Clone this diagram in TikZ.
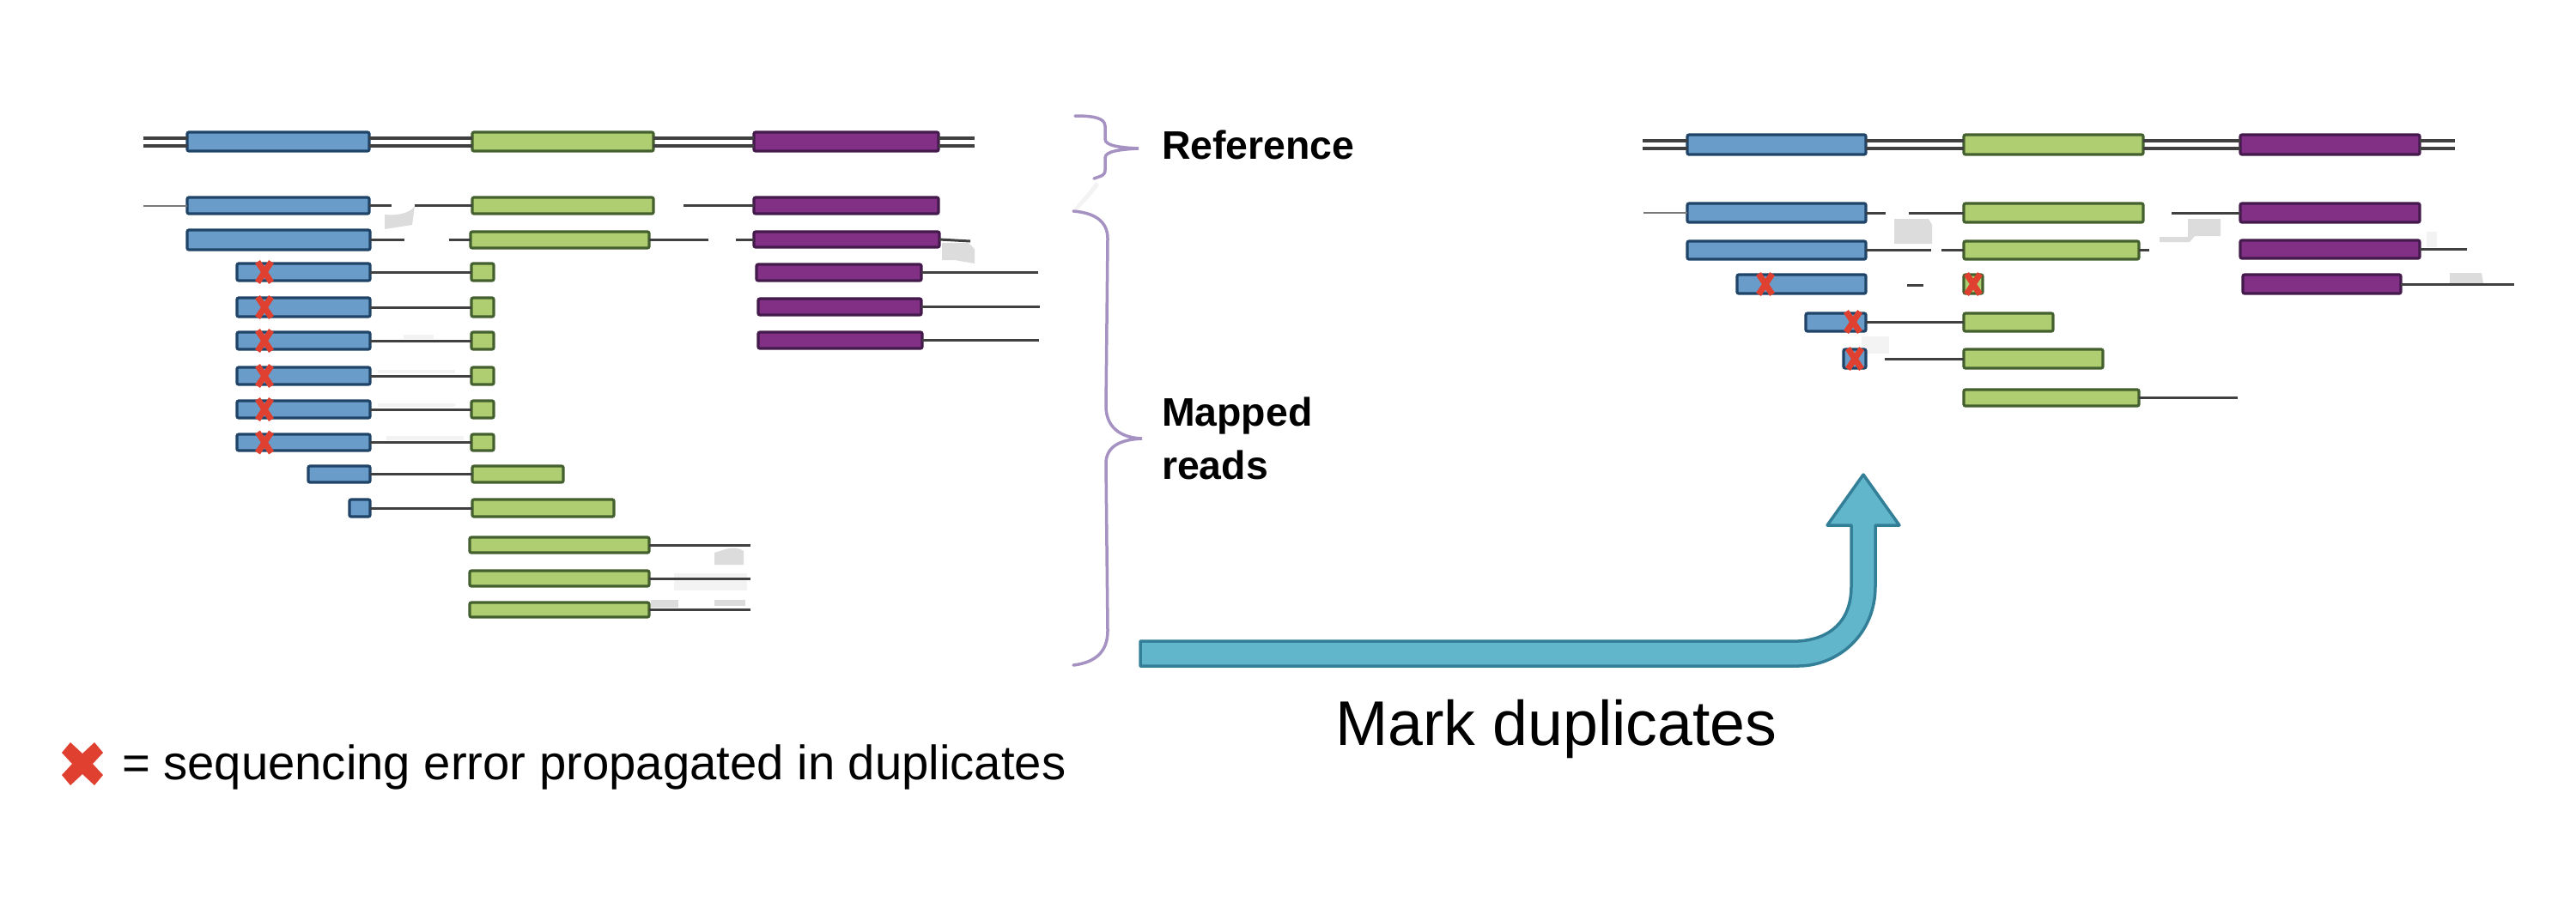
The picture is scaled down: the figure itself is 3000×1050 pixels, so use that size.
\documentclass[tikz,border=0pt]{standalone}
\usepackage{fontspec}
\setmainfont{Liberation Sans}
\definecolor{bluefill}{HTML}{6A9CC9}
\definecolor{blueedge}{HTML}{1F4468}
\definecolor{greenfill}{HTML}{AFCE72}
\definecolor{greenedge}{HTML}{44602E}
\definecolor{purplefill}{HTML}{823085}
\definecolor{purpleedge}{HTML}{431A4B}
\definecolor{crossred}{HTML}{E0402F}
\definecolor{wire}{HTML}{404040}
\definecolor{bracecol}{HTML}{A592C2}
\definecolor{arrowfill}{HTML}{62B6CC}
\definecolor{arrowedge}{HTML}{337F97}
\definecolor{smudge}{HTML}{DCDCDC}
\definecolor{smudgelight}{HTML}{F3F3F3}
\tikzset{
  x=0.01cm,y=-0.01cm,
  exon/.style={rectangle,rounded corners=0.02cm,inner sep=0pt,outer sep=0pt,line width=0.032cm},
  bluebox/.style={exon,draw=blueedge,fill=bluefill},
  greenbox/.style={exon,draw=greenedge,fill=greenfill},
  purplebox/.style={exon,draw=purpleedge,fill=purplefill},
  wireline/.style={draw=wire,line width=0.03cm},
  thinwire/.style={draw=wire!70,line width=0.02cm},
  refline/.style={draw=wire,line width=0.04cm},
  crossmark/.style={draw=crossred,line width=0.07cm},
  bracket/.style={draw=bracecol,line width=0.035cm,line cap=round,fill=none},
  bigarrow/.style={draw=arrowedge,fill=arrowfill,line width=0.035cm,line join=round},
  boldlabel/.style={inner sep=0pt,outer sep=0pt,font=\fontsize{13.2}{15.6}\selectfont\bfseries,text=black},
  plainlabel/.style={inner sep=0pt,outer sep=0pt,text=black},
  smudgepatch/.style={fill=smudge,draw=none},
  faintpatch/.style={fill=smudgelight,draw=none},
}
% name, style, x1, x2, y1, y2
\newcommand{\exonbox}[6]{%
  \pgfmathsetmacro{\exonx}{(#3+#4)/2}%
  \pgfmathsetmacro{\exony}{(#5+#6)/2}%
  \pgfmathsetmacro{\exonw}{(#4-#3)*0.01}%
  \pgfmathsetmacro{\exonh}{(#6-#5)*0.01}%
  \node[#2,minimum width=\exonw cm,minimum height=\exonh cm] (#1) at (\exonx,\exony) {};}
% x, y
\newcommand{\errcross}[2]{%
  \draw[crossmark] (#1-8,#2-12) -- (#1+8,#2+12);
  \draw[crossmark] (#1+8,#2-12) -- (#1-8,#2+12);}
\newcommand{\reflink}[2]{%
  \draw[refline] ([yshift=0.045cm]#1) -- ([yshift=0.045cm]#2);
  \draw[refline] ([yshift=-0.045cm]#1) -- ([yshift=-0.045cm]#2);}
\begin{document}
\begin{tikzpicture}
\useasboundingbox[fill=white] (0,0) rectangle (3000,1050);

% faint scan patches
\fill[smudgepatch] (448,250) .. controls (470,252) and (480,245) .. (483,240) -- (480,262) -- (448,267) -- cycle;
\fill[smudgepatch] (1097,283) -- (1128,283) -- (1135,290) -- (1135,307) -- (1112,303) -- (1097,303) -- cycle;
\fill[smudgepatch] (832,644) .. controls (845,640) and (855,635) .. (866,642) -- (866,658) -- (832,658) -- cycle;
\fill[faintpatch] (785,688) rectangle (870,668);
\fill[smudgepatch] (758,699) rectangle (790,708);
\fill[smudgepatch] (832,699) rectangle (868,706);
\fill[faintpatch] (470,390) rectangle (505,395);
\fill[faintpatch] (440,431) rectangle (530,435);
\fill[faintpatch] (440,470) rectangle (530,474);
\fill[faintpatch] (450,508) rectangle (540,513);
\fill[faintpatch] (1250,245) .. controls (1256,235) and (1270,222) .. (1276,212) -- (1280,215) .. controls (1272,228) and (1260,238) .. (1255,245) -- cycle;
\fill[smudgepatch] (2206,255) -- (2246,255) -- (2250,262) -- (2250,284) -- (2206,284) -- cycle;
\fill[smudgepatch] (2548,255) -- (2586,255) -- (2586,275) -- (2556,275) -- (2550,282) -- (2515,282) -- (2515,276) -- (2548,276) -- cycle;
\fill[smudgepatch] (2853,318) -- (2890,318) -- (2892,330) -- (2853,330) -- cycle;
\fill[faintpatch] (2826,270) rectangle (2838,288);
\fill[faintpatch] (2168,392) rectangle (2200,412);

% Left: reference
\coordinate (lrefL) at (167,165);
\coordinate (lrefR) at (1135,165);
\exonbox{lr1}{bluebox}{218}{430}{154}{176}
\exonbox{lr2}{greenbox}{550}{761}{154}{176}
\exonbox{lr3}{purplebox}{878}{1093}{154}{176}
\reflink{lrefL}{lr1.west}
\reflink{lr1.east}{lr2.west}
\reflink{lr2.east}{lr3.west}
\reflink{lr3.east}{lrefR}

% Left: row a
\exonbox{la1}{bluebox}{218}{430}{230}{249}
\exonbox{la2}{greenbox}{550}{761}{230}{249}
\exonbox{la3}{purplebox}{878}{1093}{230}{249}
\coordinate (laL) at (167,239.5);
\coordinate (laS1) at (456,239.5);
\coordinate (laS2) at (483,239.5);
\coordinate (laS3) at (796,239.5);
\draw[thinwire] (laL) -- (la1.west);
\draw[wireline] (la1.east) -- (laS1);
\draw[wireline] (laS2) -- (la2.west);
\draw[wireline] (laS3) -- (la3.west);

% Left: row b
\exonbox{lb1}{bluebox}{218}{431}{268}{291}
\exonbox{lb2}{greenbox}{548}{756}{270}{289}
\exonbox{lb3}{purplebox}{878}{1094}{270}{288}
\coordinate (lbS1) at (471,279.5);
\coordinate (lbS2) at (523,279.5);
\coordinate (lbS3) at (825,279.5);
\coordinate (lbS4) at (857,279);
\coordinate (lbS5) at (1130,281);
\draw[wireline] (lb1.east) -- (lbS1);
\draw[wireline] (lbS2) -- (lb2.west);
\draw[wireline] (lb2.east) -- (lbS3);
\draw[wireline] (lbS4) -- (lb3.west);
\draw[wireline] (lb3.east) -- (lbS5);

% Left: duplicates with error
\foreach \nm/\ya/\yb in {c/307/327,d/347/369,e/387/407,f/428/448,g/467/487,h/506/525}{
  \exonbox{l\nm1}{bluebox}{276}{431}{\ya}{\yb}
  \exonbox{l\nm2}{greenbox}{549}{575}{\ya}{\yb}
  \draw[wireline] (l\nm1.east) -- (l\nm2.west);
  \pgfmathsetmacro{\ymid}{(\ya+\yb)/2}
  \errcross{308}{\ymid}
}

% Left: rows with shifted starts
\exonbox{li1}{bluebox}{359}{431}{543}{562}
\exonbox{li2}{greenbox}{550}{656}{543}{562}
\draw[wireline] (li1.east) -- (li2.west);
\exonbox{lj1}{bluebox}{407}{431}{582}{602}
\exonbox{lj2}{greenbox}{550}{715}{582}{602}
\draw[wireline] (lj1.east) -- (lj2.west);

% Left: green reads
\foreach \nm/\ya/\yb in {k/626/644,l/665/683,m/702/719}{
  \exonbox{l\nm}{greenbox}{547}{756}{\ya}{\yb}
  \pgfmathsetmacro{\ymid}{(\ya+\yb)/2}
  \coordinate (l\nm E) at (874,\ymid);
  \draw[wireline] (l\nm.east) -- (l\nm E);
}

% Left: purple reads
\exonbox{ln}{purplebox}{881}{1073}{308}{327}
\exonbox{lo}{purplebox}{883}{1073}{348}{367}
\exonbox{lp}{purplebox}{883}{1074}{387}{406}
\coordinate (lnE) at (1209,317.5);
\coordinate (loE) at (1211,357.5);
\coordinate (lpE) at (1210,396.5);
\draw[wireline] (ln.east) -- (lnE);
\draw[wireline] (lo.east) -- (loE);
\draw[wireline] (lp.east) -- (lpE);

% Right: reference
\coordinate (rrefL) at (1913,168.5);
\coordinate (rrefR) at (2859,168.5);
\exonbox{rr1}{bluebox}{1965}{2173}{157}{180}
\exonbox{rr2}{greenbox}{2287}{2496}{157}{180}
\exonbox{rr3}{purplebox}{2609}{2818}{157}{180}
\reflink{rrefL}{rr1.west}
\reflink{rr1.east}{rr2.west}
\reflink{rr2.east}{rr3.west}
\reflink{rr3.east}{rrefR}

% Right: row a
\exonbox{ra1}{bluebox}{1965}{2173}{237}{259}
\exonbox{ra2}{greenbox}{2287}{2496}{237}{259}
\exonbox{ra3}{purplebox}{2609}{2818}{237}{259}
\coordinate (raL) at (1914,248);
\coordinate (raS1) at (2196,248);
\coordinate (raS2) at (2223,248);
\coordinate (raS3) at (2529,248);
\draw[thinwire] (raL) -- (ra1.west);
\draw[wireline] (ra1.east) -- (raS1);
\draw[wireline] (raS2) -- (ra2.west);
\draw[wireline] (raS3) -- (ra3.west);

% Right: row b
\exonbox{rb1}{bluebox}{1965}{2173}{281}{302}
\exonbox{rb2}{greenbox}{2287}{2491}{281}{302}
\exonbox{rb3}{purplebox}{2609}{2818}{280}{301}
\coordinate (rbS1) at (2249,291.5);
\coordinate (rbS2) at (2261,291.5);
\coordinate (rbS3) at (2503,291.5);
\coordinate (rbS4) at (2873,290.5);
\draw[wireline] (rb1.east) -- (rbS1);
\draw[wireline] (rbS2) -- (rb2.west);
\draw[wireline] (rb2.east) -- (rbS3);
\draw[wireline] (rb3.east) -- (rbS4);

% Right: row c
\exonbox{rc1}{bluebox}{2023}{2173}{320}{342}
\exonbox{rc2}{greenbox}{2287}{2309}{320}{342}
\exonbox{rc3}{purplebox}{2612}{2796}{320}{342}
\coordinate (rcS1) at (2221,332);
\coordinate (rcS2) at (2240,332);
\coordinate (rcE) at (2928,331);
\draw[wireline] (rcS1) -- (rcS2);
\draw[wireline] (rc3.east) -- (rcE);
\errcross{2056}{331}
\errcross{2298}{331}

% Right: rows d, e, f
\exonbox{rd1}{bluebox}{2103}{2173}{365}{386}
\exonbox{rd2}{greenbox}{2287}{2391}{365}{386}
\draw[wireline] (rd1.east) -- (rd2.west);
\errcross{2158}{375}
\exonbox{re1}{bluebox}{2147}{2173}{407}{429}
\exonbox{re2}{greenbox}{2287}{2449}{407}{429}
\coordinate (reS) at (2195,418);
\draw[wireline] (reS) -- (re2.west);
\errcross{2160}{418}
\exonbox{rf}{greenbox}{2287}{2491}{454}{473}
\coordinate (rfE) at (2606,463.5);
\draw[wireline] (rf.east) -- (rfE);

% Braces
\draw[bracket] (1252,135) .. controls (1272,135) and (1287,137) .. (1287,147) -- (1287,162)
  .. controls (1287,170) and (1305,172) .. (1326,173)
  .. controls (1305,174) and (1287,176) .. (1287,184) -- (1287,198)
  .. controls (1287,205) and (1282,205) .. (1274,208);
\draw[bracket] (1250,246) .. controls (1275,248) and (1290,258) .. (1290,278) -- (1288,473)
  .. controls (1288,498) and (1305,510) .. (1330,511)
  .. controls (1305,512) and (1288,520) .. (1288,540) -- (1290,735)
  .. controls (1290,760) and (1275,772) .. (1250,775);

% Labels
\node[boldlabel,anchor=base west] (reflabel) at (1353,185) {Reference};
\node[boldlabel,anchor=base west] (maplabel) at (1353,496) {Mapped};
\node[boldlabel,anchor=base west] (readlabel) at (1353,558) {reads};

% Big arrow
\draw[bigarrow] (1328,747) -- (2094,747)
  .. controls (2130,745) and (2156,725) .. (2156,683)
  -- (2156,612) -- (2128,612) -- (2170,553) -- (2212,612) -- (2184,612) -- (2184,683)
  .. controls (2184,740) and (2140,776) .. (2094,776)
  -- (1328,776) -- cycle;
\node[plainlabel,anchor=base west,font=\fontsize{20.9}{25}\selectfont] (marklabel) at (1555,868) {Mark duplicates};

% Legend
\fill[crossred] (82,865) -- (96,878) -- (110,865) -- (120,877) -- (108,890) -- (120,903) -- (110,915) -- (96,902) -- (82,915) -- (72,903) -- (84,890) -- (72,877) -- cycle;
\node[plainlabel,anchor=base west,font=\fontsize{16}{19}\selectfont] (legendlabel) at (142,908) {= sequencing error propagated in duplicates};
\end{tikzpicture}
\end{document}
